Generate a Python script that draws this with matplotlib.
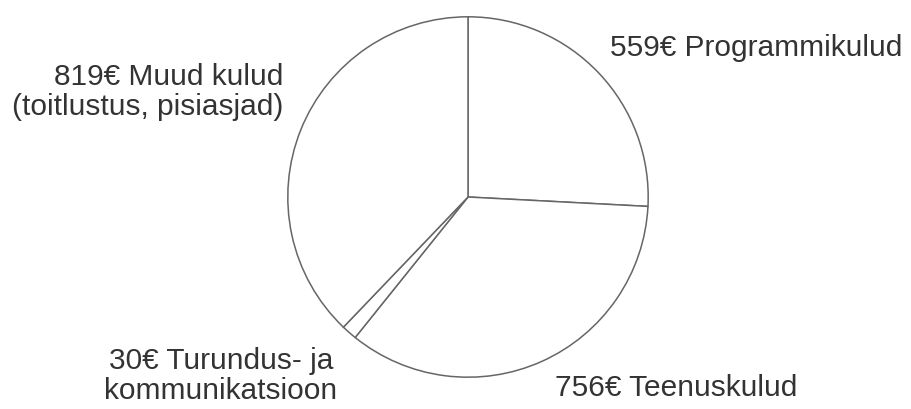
import matplotlib.pyplot as plt

values = [559, 756, 30, 819]
labels = ['559€ Programmikulud', '756€ Teenuskulud',
          '30€ Turundus- ja\nkommunikatsioon',
          '819€ Muud kulud\n(toitlustus, pisiasjad)']

plt.rcParams['font.family'] = ['Liberation Sans', 'DejaVu Sans']

W, H = 912, 409
fig = plt.figure(figsize=(W / 100, H / 100), dpi=100)
cx, cy, r = 468, 197, 182
ax = fig.add_axes([(cx - r) / W, (H - cy - r) / H, 2 * r / W, 2 * r / H])
ax.pie(values, startangle=90, counterclock=False, colors=['white'] * 4,
       wedgeprops=dict(edgecolor='#666666', linewidth=1.1))
ax.set_xlim(-1.01, 1.01)
ax.set_ylim(-1.01, 1.01)
ax.set_aspect('equal')
ax.axis('off')

# label positions in pixels (x, y from top), alignment
pos = [(610, 48, 'left'), (555, 388, 'left'), (221, 376, 'center'), (283, 92, 'right')]
for lab, (x, y, ha) in zip(labels, pos):
    fig.text(x / W, 1 - y / H, lab, ha=ha, ma=ha, va='center', fontsize=21.5,
             color='#333333', linespacing=1.12)

fig.savefig('out.png', dpi=100)
